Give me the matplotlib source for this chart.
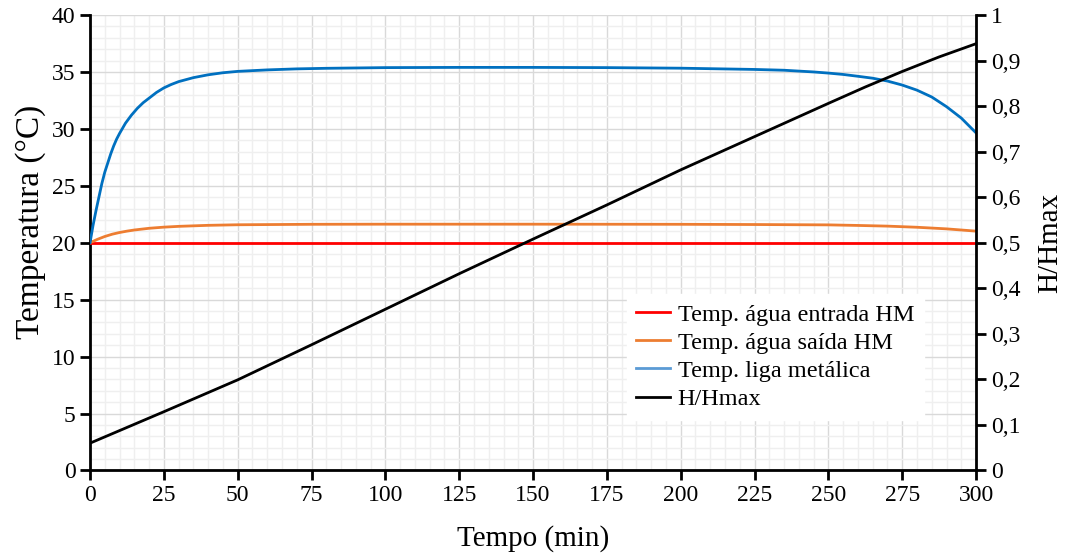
import numpy as np
import matplotlib
matplotlib.use('Agg')
import matplotlib.pyplot as plt
from matplotlib.ticker import MultipleLocator, FuncFormatter
from matplotlib.lines import Line2D

plt.rcParams['font.family'] = ['Liberation Serif', 'DejaVu Serif']

# tempo (min) e valores
t_liga = [0, 1, 2, 3, 4, 5, 6, 7, 8, 9, 10, 12, 14, 16, 18, 20, 22.5, 25, 27.5, 30,
          35, 40, 45, 50, 60, 70, 80, 100, 125, 150, 175, 200, 225, 235, 245, 250,
          255, 260, 265, 270, 275, 280, 285, 290, 295, 300]
temp_liga = [20, 21.5, 22.8, 24.0, 25.2, 26.2, 27.0, 27.8, 28.5, 29.1, 29.6, 30.5,
             31.2, 31.8, 32.3, 32.7, 33.2, 33.6, 33.9, 34.15, 34.5, 34.75, 34.93,
             35.05, 35.18, 35.27, 35.32, 35.38, 35.4, 35.4, 35.38, 35.33, 35.22,
             35.15, 35.0, 34.9, 34.78, 34.62, 34.45, 34.2, 33.85, 33.4, 32.8, 31.95,
             30.95, 29.65]

t_saida = [0, 2.5, 5, 7.5, 10, 12.5, 15, 20, 25, 30, 40, 50, 75, 100, 150, 200, 225,
           250, 260, 270, 280, 290, 300]
temp_saida = [20, 20.3, 20.55, 20.75, 20.9, 21.02, 21.12, 21.27, 21.37, 21.44, 21.53,
              21.58, 21.62, 21.63, 21.63, 21.62, 21.6, 21.57, 21.52, 21.46, 21.36,
              21.22, 21.02]

t_entrada = [0, 300]
temp_entrada = [20, 20]

t_h = [0, 25, 50, 75, 100, 125, 150, 175, 200, 225, 250, 262.5, 275, 287.5, 300]
h_hmax = [0.060, 0.129, 0.199, 0.276, 0.354, 0.432, 0.508, 0.583, 0.660, 0.733,
          0.806, 0.842, 0.876, 0.908, 0.937]

fig = plt.figure(figsize=(10.68, 5.56), dpi=100)
ax = fig.add_axes([0.0843, 0.1538, 0.8296, 0.8192])

ax.plot(t_entrada, temp_entrada, color='#FF0000', lw=2, zorder=3)
ax.plot(t_saida, temp_saida, color='#ED7D31', lw=2, zorder=3)
ax.plot(t_liga, temp_liga, color='#0070C0', lw=2, zorder=3)

ax.set_xlim(0, 300)
ax.set_ylim(0, 40)
ax.xaxis.set_major_locator(MultipleLocator(25))
ax.xaxis.set_minor_locator(MultipleLocator(5))
ax.yaxis.set_major_locator(MultipleLocator(5))
ax.yaxis.set_minor_locator(MultipleLocator(1))
ax.grid(which='major', color='#d9d9d9', lw=1)
ax.grid(which='minor', color='#efefef', lw=1)
ax.set_axisbelow(True)
ax.tick_params(which='minor', length=0)
ax.tick_params(which='major', length=7, width=2, labelsize=17, direction='out')
for s in ['top', 'right']:
    ax.spines[s].set_visible(False)
for s in ['left', 'bottom']:
    ax.spines[s].set_linewidth(2)
ax.set_xlabel('Tempo (min)', fontsize=21, labelpad=14)
ax.set_ylabel('Temperatura (°C)', fontsize=24)
ax.yaxis.set_label_coords(-0.05, 0.545)

ax2 = ax.twinx()
ax2.plot(t_h, h_hmax, color='black', lw=2)
ax2.set_ylim(0, 1)
ax2.yaxis.set_major_locator(MultipleLocator(0.1))
ax2.yaxis.set_major_formatter(FuncFormatter(
    lambda v, p: ('%g' % round(v, 1)).replace('.', ',')))
ax2.tick_params(which='major', length=7, width=2, labelsize=17, direction='out')
for s in ['top', 'left', 'bottom']:
    ax2.spines[s].set_visible(False)
ax2.spines['right'].set_linewidth(2)
ax2.set_ylabel('H/Hmax', fontsize=21, labelpad=12)

handles = [Line2D([], [], color='#FF0000', lw=2),
           Line2D([], [], color='#ED7D31', lw=2),
           Line2D([], [], color='#5B9BD5', lw=2),
           Line2D([], [], color='black', lw=2)]
labels = ['Temp. água entrada HM', 'Temp. água saída HM',
          'Temp. liga metálica', 'H/Hmax']
leg = ax2.legend(handles, labels, loc='upper left', bbox_to_anchor=(0.592, 0.414),
                 fontsize=17.5, frameon=True, fancybox=False, edgecolor='white',
                 framealpha=1, handlelength=1.4, handletextpad=0.3,
                 labelspacing=0.25, borderpad=0.4)

fig.savefig('out.png', dpi=100)
